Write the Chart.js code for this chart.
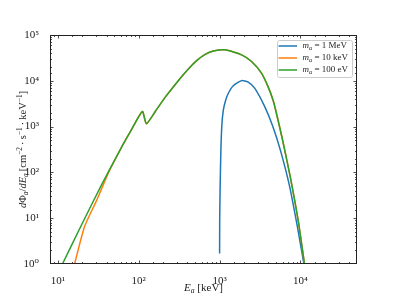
<!DOCTYPE html>
<html>
<head>
<meta charset="utf-8">
<script src="https://cdn.jsdelivr.net/npm/chart.js@4.4.1/dist/chart.umd.min.js"></script>
<style>
  html, body { margin: 0; padding: 0; background: #fff; }
  canvas { display: block; }
</style>
</head>
<body>
<canvas id="flux" width="397" height="297"></canvas>
<script>
// axion flux spectra for three masses, log-log

const massLabels = ['1 MeV', '10 keV', '100 eV'];
const colors = ['#1f77b4', '#ff7f0e', '#2ca02c'];

// m_a = 1 MeV
const energyBlue = [1000.3, 1002.8, 1014, 1037.5, 1067, 1113, 1191, 1282, 1465, 1871, 2238, 2728, 3614, 4530, 5690, 7330, 9180, 11040];
const fluxBlue   = [1.7, 9, 41, 308, 1084, 2307, 3820, 5350, 7730, 10100, 9460, 6820, 2725, 1031, 292, 50, 6.35, 1];

// m_a = 10 keV
const energyOrange = [16.1, 21.3, 29.6, 34.2, 43, 60.1, 79.8, 111, 124.3, 161.7, 214, 327, 411, 525, 664, 840, 1167, 1871, 2483, 3296, 3972, 4572, 4933, 6010, 7530, 9440, 11200];
const fluxOrange   = [1, 6.45, 22.7, 41, 105, 332, 803, 2140, 1157, 2195, 4446, 11400, 18200, 27900, 37800, 44700, 47400, 36900, 26300, 14700, 7460, 3820, 2307, 509, 75, 8.2, 1];

// m_a = 100 eV
const energyGreen = [11.4, 19.4, 34.2, 60.1, 79.8, 111, 124.3, 161.7, 214, 327, 411, 525, 664, 840, 1167, 1871, 2483, 3296, 3972, 4572, 4933, 6010, 7530, 9440, 11200];
const fluxGreen   = [1, 6.84, 50.9, 332, 803, 2140, 1157, 2195, 4446, 11400, 18200, 27900, 37800, 44700, 47400, 36900, 26300, 14700, 7460, 3820, 2307, 509, 75, 8.2, 1];

const xMin = 8, xMax = 50000;
const yMin = 1, yMax = 100000;

const SERIF = '"Liberation Serif", "DejaVu Serif", serif';
const SUP = {'0': '⁰', '1': '¹', '2': '²', '3': '³', '4': '⁴', '5': '⁵'};
const TS = '\u2009'; // thin space, like the math spacing round \cdot

// axis titles as [text, style, shift] runs so the math can be set like LaTeX
const yTitle = [['d', 'i'], ['Φ', 'r'], ['a', 'i', 'sub'], ['/', 'r'], ['d', 'i'], ['E', 'i'], ['a', 'i', 'sub'],
  [TS + '[cm', 'r'], ['−2', 'r', 'sup'], [TS + '·' + TS + 's', 'r'], ['−1', 'r', 'sup'],
  [TS + '·' + TS + 'keV', 'r'], ['−1', 'r', 'sup'], [']', 'r']];
const xTitle = [['E', 'i'], ['a', 'i', 'sub'], [' [keV]', 'r']];

function isDecade(v) {
  const l = Math.log10(v);
  return Math.abs(l - Math.round(l)) < 1e-9;
}

function decadeLabel(v) {
  if (!isDecade(v)) return '';
  const e = String(Math.round(Math.log10(v)));
  return '10' + e.split('').map(c => SUP[c]).join('');
}

function pts(xs, ys) {
  return xs.map((x, i) => ({x, y: ys[i]}));
}

function runFont(run, size) {
  const s = run[2] ? size * 0.7 : size;
  return `${run[1] === 'i' ? 'italic ' : ''}${s}px ${SERIF}`;
}

function richWidth(ctx, runs, size) {
  let w = 0;
  for (const r of runs) { ctx.font = runFont(r, size); w += ctx.measureText(r[0]).width; }
  return w;
}

// draws runs centred on (0,0) of the current transform, shrunk to maxW if needed
function drawRich(ctx, runs, size, maxW) {
  let w = richWidth(ctx, runs, size);
  if (w > maxW) { size *= maxW / w; w = maxW; }
  let x = -w / 2;
  const base = size * 0.35;
  for (const r of runs) {
    ctx.font = runFont(r, size);
    const dy = r[2] === 'sub' ? size * 0.22 : r[2] === 'sup' ? -size * 0.38 : 0;
    ctx.fillText(r[0], x, base + dy);
    x += ctx.measureText(r[0]).width;
  }
}

// matplotlib-style inward ticks on all four sides, plus the frame
const frameTicks = {
  id: 'frameTicks',
  afterDatasetsDraw(chart) {
    const {ctx, chartArea: a, scales} = chart;
    ctx.save();
    ctx.strokeStyle = '#222';
    ctx.lineWidth = 0.8;
    ctx.beginPath();
    for (const t of scales.x.ticks) {
      const p = Math.round(scales.x.getPixelForValue(t.value)) + 0.5;
      if (p < a.left || p > a.right) continue;
      const len = isDecade(t.value) ? 3.5 : 2;
      ctx.moveTo(p, a.bottom); ctx.lineTo(p, a.bottom - len);
      ctx.moveTo(p, a.top); ctx.lineTo(p, a.top + len);
    }
    for (const t of scales.y.ticks) {
      const p = Math.round(scales.y.getPixelForValue(t.value)) + 0.5;
      if (p < a.top || p > a.bottom) continue;
      const len = isDecade(t.value) ? 3.5 : 2;
      ctx.moveTo(a.left, p); ctx.lineTo(a.left + len, p);
      ctx.moveTo(a.right, p); ctx.lineTo(a.right - len, p);
    }
    ctx.stroke();
    ctx.lineWidth = 1;
    ctx.strokeRect(a.left + 0.5, a.top + 0.5, a.width - 1, a.height - 1);
    ctx.restore();
  }
};

const axisTitles = {
  id: 'axisTitles',
  afterDraw(chart) {
    const {ctx, chartArea: a} = chart;
    ctx.save();
    ctx.fillStyle = '#222';
    ctx.textBaseline = 'alphabetic';
    ctx.save();
    ctx.translate((a.left + a.right) / 2, 287);
    drawRich(ctx, xTitle, 11, 44);
    ctx.restore();
    ctx.translate(22, (a.top + a.bottom) / 2);
    ctx.rotate(-Math.PI / 2);
    drawRich(ctx, yTitle, 10.5, 152);
    ctx.restore();
  }
};

// legend box in the upper right corner, m_a with a subscript
const legendBox = {
  id: 'legendBox',
  afterDraw(chart) {
    const {ctx, chartArea: a} = chart;
    const fs = 9;
    const fMain = `${fs}px ${SERIF}`;
    const fItal = `italic ${fs}px ${SERIF}`;
    const fSub = `italic ${fs * 0.7}px ${SERIF}`;
    ctx.save();
    ctx.font = fItal; const wm = ctx.measureText('m').width;
    ctx.font = fSub; const wa = ctx.measureText('a').width;
    ctx.font = fMain;
    const wRest = Math.max(...massLabels.map(s => ctx.measureText(' = ' + s).width));
    const w = 26 + wm + wa + wRest + 4;
    const h = 37;
    const right = a.right - 5, top = a.top + 4.5, left = right - w;
    ctx.fillStyle = 'rgba(255,255,255,0.8)';
    ctx.strokeStyle = '#cccccc';
    ctx.lineWidth = 1;
    ctx.beginPath();
    ctx.roundRect(Math.round(left) + 0.5, Math.round(top) + 0.5, Math.round(w), h, 2);
    ctx.fill(); ctx.stroke();
    chart.data.datasets.forEach((ds, i) => {
      const cy = top + 6.5 + i * 12;
      ctx.strokeStyle = ds.borderColor;
      ctx.lineWidth = 1.5;
      ctx.beginPath();
      ctx.moveTo(left + 2, cy); ctx.lineTo(left + 20.5, cy);
      ctx.stroke();
      ctx.fillStyle = '#222';
      ctx.textBaseline = 'middle';
      let x = left + 26;
      ctx.font = fItal; ctx.fillText('m', x, cy); x += wm;
      ctx.font = fSub; ctx.fillText('a', x, cy + 2); x += wa;
      ctx.font = fMain; ctx.fillText(' = ' + massLabels[i], x, cy);
    });
    ctx.restore();
  }
};

const tickFont = {family: SERIF, size: 11};

new Chart(document.getElementById('flux'), {
  type: 'line',
  data: {
    datasets: [
      {label: 'mₐ = ' + massLabels[0], data: pts(energyBlue, fluxBlue), borderColor: colors[0], order: 3},
      {label: 'mₐ = ' + massLabels[1], data: pts(energyOrange, fluxOrange), borderColor: colors[1], order: 2},
      {label: 'mₐ = ' + massLabels[2], data: pts(energyGreen, fluxGreen), borderColor: colors[2], order: 1},
    ],
  },
  options: {
    responsive: false,
    animation: false,
    devicePixelRatio: 1,
    layout: {padding: {top: 35, right: 40, left: 0, bottom: 0}},
    elements: {
      point: {radius: 0},
      line: {borderWidth: 1.5, tension: 0.2, fill: false},
    },
    plugins: {
      legend: {display: false},
      tooltip: {enabled: false},
    },
    scales: {
      x: {
        type: 'logarithmic',
        min: xMin,
        max: xMax,
        grid: {display: false},
        border: {display: false},
        ticks: {
          autoSkip: false, maxRotation: 0, padding: 3,
          color: '#222', font: tickFont,
          callback: v => decadeLabel(v),
        },
        afterFit(s) { s.height = 33; },
      },
      y: {
        type: 'logarithmic',
        min: yMin,
        max: yMax,
        grid: {display: false},
        border: {display: false},
        ticks: {
          autoSkip: false, padding: 3,
          color: '#222', font: tickFont,
          callback: v => decadeLabel(v),
        },
        afterFit(s) { s.width = 50; },
      },
    },
  },
  plugins: [frameTicks, axisTitles, legendBox],
});
</script>
</body>
</html>
